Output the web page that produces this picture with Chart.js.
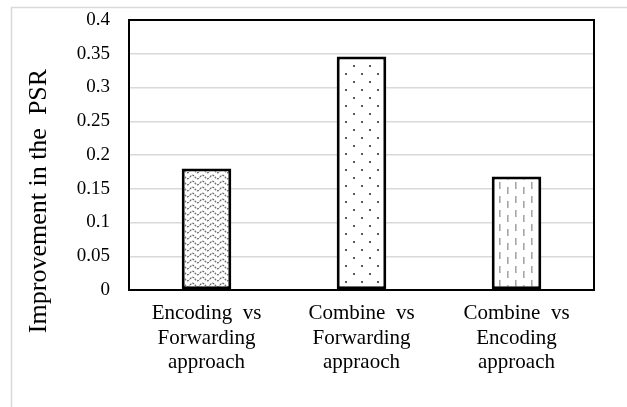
<!DOCTYPE html>
<html>
<head>
<meta charset="utf-8">
<script src="https://cdn.jsdelivr.net/npm/chart.js@4"></script>
<style>
html,body{margin:0;padding:0;background:#fff;}
#wrap{width:627px;height:407px;position:relative;}
</style>
</head>
<body>
<div id="wrap"><canvas id="c" width="627" height="407"></canvas></div>
<script>
const categories = [
  ["Encoding  vs", "Forwarding", "approach"],
  ["Combine  vs", "Forwarding", "appraoch"],
  ["Combine  vs", "Encoding", "approach"]
];
const improvement = [0.18, 0.346, 0.168];
const yTitle = "Improvement in the  PSR";
const yMin = 0, yMax = 0.4, yStep = 0.05;

function makeTile(w, h, draw) {
  const c = document.createElement('canvas');
  c.width = w; c.height = h;
  const g = c.getContext('2d');
  g.fillStyle = '#fff';
  g.fillRect(0, 0, w, h);
  draw(g);
  return document.getElementById('c').getContext('2d').createPattern(c, 'repeat');
}
const wavePattern = makeTile(10, 6, g => {
  g.strokeStyle = '#666';
  g.lineWidth = 1.2;
  g.setLineDash([2, 1]);
  g.beginPath();
  for (let x = 0; x <= 10; x += 0.5) {
    const y = 3 - 1.8 * Math.sin(x / 10 * 2 * Math.PI);
    if (x === 0) g.moveTo(x, y); else g.lineTo(x, y);
  }
  g.stroke();
});
const dotPattern = makeTile(16, 16, g => {
  g.fillStyle = '#595959';
  g.fillRect(1, 1, 2, 2);
  g.fillRect(9, 9, 2, 2);
});
const dashPattern = makeTile(16, 14, g => {
  g.fillStyle = '#a6a6a6';
  g.fillRect(3, 0, 1.6, 7);
  g.fillRect(11, 5, 1.6, 7);
});

const framePlugin = {
  id: 'frame',
  beforeDraw(chart) {
    const ctx = chart.ctx;
    ctx.save();
    ctx.fillStyle = '#fff';
    ctx.fillRect(0, 0, chart.width, chart.height);
    ctx.strokeStyle = '#d9d9d9';
    ctx.lineWidth = 1.5;
    ctx.beginPath();
    ctx.moveTo(11.5, 407);
    ctx.lineTo(11.5, 7.5);
    ctx.lineTo(627, 7.5);
    ctx.stroke();
    ctx.restore();
  },
  afterDraw(chart) {
    const a = chart.chartArea;
    const ctx = chart.ctx;
    ctx.save();
    ctx.strokeStyle = '#000';
    ctx.lineWidth = 2;
    ctx.strokeRect(a.left, a.top, a.right - a.left, a.bottom - a.top);
    ctx.translate(39, 201);
    ctx.rotate(-Math.PI / 2);
    ctx.fillStyle = '#000';
    ctx.font = '26px "Liberation Serif"';
    ctx.textAlign = 'center';
    ctx.textBaseline = 'middle';
    ctx.fillText(yTitle, 0, 0);
    ctx.restore();
  }
};

new Chart(document.getElementById('c'), {
  type: 'bar',
  data: {
    labels: categories,
    datasets: [{
      data: improvement,
      backgroundColor: [wavePattern, dotPattern, dashPattern],
      borderColor: '#000',
      borderWidth: 3,
      borderSkipped: false,
      barPercentage: 0.32,
      categoryPercentage: 1
    }]
  },
  options: {
    responsive: false,
    animation: false,
    devicePixelRatio: 1,
    layout: { padding: { top: 20, right: 33, left: 0, bottom: 0 } },
    plugins: { legend: { display: false }, tooltip: { enabled: false } },
    scales: {
      x: {
        grid: { display: false, drawTicks: false },
        border: { display: true, color: '#000', width: 2 },
        ticks: {
          color: '#000',
          padding: 11,
          maxRotation: 0,
          autoSkip: false,
          font: { family: 'Liberation Serif', size: 21, lineHeight: 1.18 }
        },
        afterFit(s) { s.height = 117; s.paddingLeft = 0; s.paddingRight = 0; }
      },
      y: {
        min: yMin, max: yMax,
        grid: { color: '#d9d9d9', lineWidth: 1.5, drawTicks: false },
        border: { display: true, color: '#000', width: 2 },
        ticks: {
          stepSize: yStep,
          color: '#000',
          padding: 19,
          font: { family: 'Liberation Serif', size: 19 },
          callback: v => String(parseFloat(Number(v).toFixed(2)))
        },
        afterFit(s) { s.width = 129; s.paddingTop = 0; s.paddingBottom = 0; }
      }
    }
  },
  plugins: [framePlugin]
});
</script>
</body>
</html>
